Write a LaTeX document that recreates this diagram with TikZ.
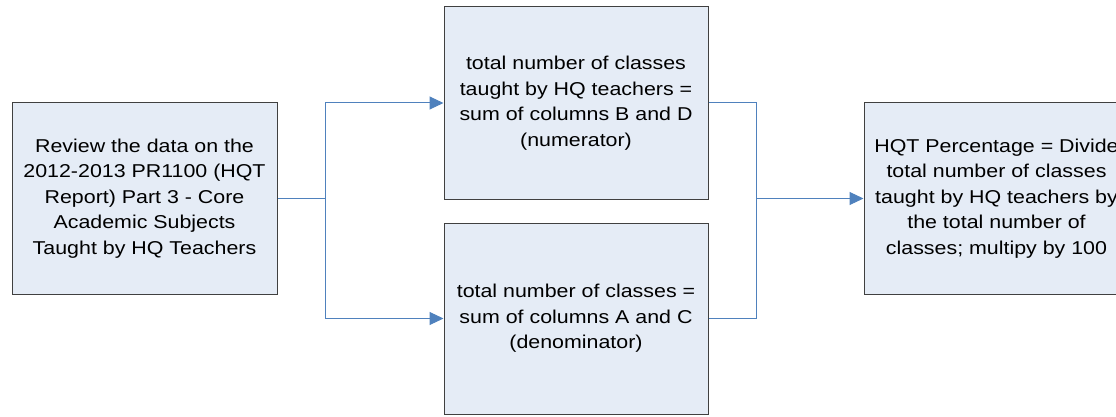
\documentclass[tikz,border=0pt]{standalone}
\usepackage{fontspec}
\setmainfont[FakeStretch=1.15]{Liberation Sans}
\usetikzlibrary{arrows.meta}
\definecolor{boxfill}{HTML}{E5ECF6}
\definecolor{boxline}{HTML}{404040}
\definecolor{connblue}{HTML}{4F81BD}
\tikzset{
  procbox/.style={draw=boxline, fill=boxfill, line width=1pt, minimum width=265pt, minimum height=191pt,
    align=center, inner sep=0pt, font=\fontsize{18.6}{25.5}\selectfont, text=black},
  conn/.style={draw=connblue, line width=1pt},
  arr/.style={conn, -{Triangle[length=14pt,width=13pt]}}
}
\begin{document}
\begin{tikzpicture}[x=1pt,y=-1pt]
\useasboundingbox (0,0) rectangle (1116,417);
\clip (0,0) rectangle (1116,417);
\node[procbox] (L) at (144.5,198.5) {Review the data on the\\2012-2013 PR1100 (HQT\\Report) Part 3 - Core\\Academic Subjects\\Taught by HQ Teachers};
\node[procbox, minimum width=264pt, minimum height=192pt] (T) at (576,103) {total number of classes\\taught by HQ teachers =\\sum of columns B and D\\(numerator)};
\node[procbox, minimum width=264pt] (B) at (576,318.5) {total number of classes =\\sum of columns A and C\\(denominator)};
\node[procbox] (R) at (996.5,198.5) {HQT Percentage = Divide\\total number of classes\\taught by HQ teachers by\\the total number of\\classes; multipy by 100};
\coordinate (b1) at (325,198.5);
\coordinate (b2) at (756,198.5);
\draw[conn] (L.east) -- (b1);
\draw[arr] (b1) |- (T.west);
\draw[arr] (b1) |- (B.west);
\draw[conn] (T.east) -| (b2);
\draw[conn] (B.east) -| (b2);
\draw[arr] (b2) -- (R.west);
\end{tikzpicture}
\end{document}
